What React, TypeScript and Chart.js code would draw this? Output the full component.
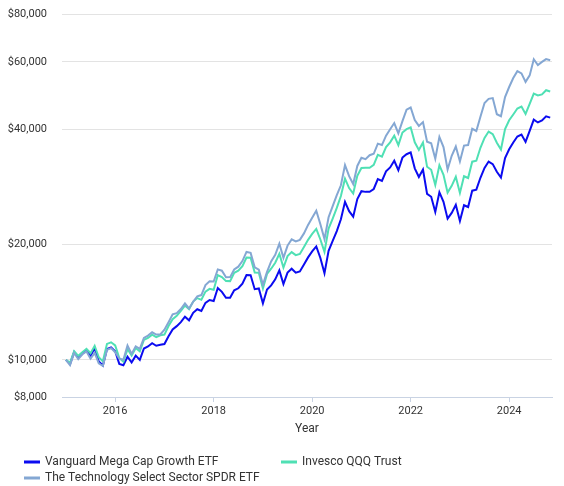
import React, { useEffect, useRef } from "react";
import { Chart, registerables } from "chart.js";

Chart.register(...registerables);

const seriesNames = [
  "Vanguard Mega Cap Growth ETF",
  "Invesco QQQ Trust",
  "The Technology Select Sector SPDR ETF",
];

// Monthly categories (first of month), Jan 2015 .. Nov 2024
const months: string[] = [];
for (let y = 2015; y <= 2024; y++) {
  for (let m = 1; m <= 12; m++) {
    if (months.length < 119) months.push(`${y}-${String(m).padStart(2, "0")}`);
  }
}

const mgk = [
  10000, 9760, 10478, 10143, 10370, 10579, 10254, 10720, 9906, 9665,
  10680, 10781, 10533, 9760, 9680, 10191, 9850, 10259, 9998, 10710,
  10838, 11059, 10888, 10958, 11002, 11523, 12010, 12249, 12551, 12963,
  12685, 13273, 13558, 13418, 14091, 14331, 14247, 15403, 15055, 14532,
  14531, 15191, 15379, 15809, 16650, 16633, 15294, 15369, 14052, 15260,
  15655, 16233, 17128, 15772, 16895, 17303, 16892, 17019, 17751, 18520,
  19198, 19778, 18458, 16841, 19271, 20463, 21689, 23297, 25862, 24446,
  23654, 26302, 27574, 27458, 27465, 27936, 29659, 29343, 31079, 31808,
  33108, 31267, 33741, 34433, 34812, 31626, 30023, 31400, 27136, 26658,
  24321, 27400, 25869, 23370, 24202, 25397, 23049, 25336, 25066, 27657,
  27820, 29883, 31702, 32947, 32442, 30985, 29934, 33660, 35473, 36951,
  38298, 38756, 37084, 39618, 42387, 41678, 42187, 43255, 42907,
];

const qqq = [
  10000, 9827, 10531, 10245, 10475, 10686, 10410, 10883, 10160, 9913,
  11010, 11114, 10915, 10112, 9893, 10671, 10267, 10742, 10524, 11274,
  11408, 11641, 11461, 11596, 11642, 12258, 12777, 13031, 13423, 13864,
  13567, 14196, 14500, 14351, 15071, 15327, 15237, 16652, 16454, 16057,
  16056, 16879, 17088, 17565, 18500, 18481, 16899, 16889, 15374, 16769,
  17298, 17937, 18926, 17428, 18668, 19119, 18769, 18910, 19723, 20578,
  21331, 21976, 20623, 19137, 22024, 23386, 24930, 26778, 29726, 28099,
  27188, 30232, 31694, 31743, 31751, 32296, 34288, 33923, 35930, 36986,
  38498, 36357, 39234, 40038, 40479, 36990, 35321, 36941, 31925, 31362,
  28613, 32235, 30434, 27333, 28473, 30056, 27277, 30162, 29840, 32925,
  33119, 35788, 37966, 39458, 38853, 36887, 35425, 40072, 42230, 43729,
  45323, 45865, 43886, 46609, 49575, 49033, 49341, 50591, 50184,
];

const xlk = [
  10000, 9684, 10420, 10042, 10343, 10524, 10072, 10423, 9800, 9639,
  10625, 10734, 10475, 10069, 10005, 10899, 10369, 10846, 10685, 11410,
  11569, 11803, 11642, 11653, 11986, 12543, 13151, 13238, 13575, 14036,
  13626, 14188, 14650, 14765, 15679, 16045, 16023, 17229, 17095, 16433,
  16449, 17220, 17514, 18111, 19138, 19030, 17455, 17193, 15714, 16972,
  18080, 18809, 20098, 18462, 19882, 20641, 20380, 20578, 21391, 22512,
  23508, 24530, 22601, 20669, 23571, 25215, 26940, 28566, 32260, 30170,
  28776, 32091, 33703, 33423, 34234, 34525, 36691, 36386, 38506, 40029,
  41529, 39032, 41998, 44997, 45589, 42272, 40814, 41771, 37127, 36792,
  33504, 38206, 35943, 31403, 34103, 36068, 32973, 36267, 36379, 40133,
  39611, 43135, 46852, 48041, 48245, 43800, 43278, 48564, 51582, 54444,
  56722, 55967, 53194, 55314, 60940, 58864, 59970, 60996, 60564,
];

const yTicks = [8000, 10000, 20000, 40000, 60000, 80000];
const xTicks = [2016, 2018, 2020, 2022, 2024];
const colors = ["#0b0bf0", "#4fe0b4", "#84a7d3"];

function toYear(s: string): number {
  const [y, m] = s.split("-").map(Number);
  return y + (m - 1) / 12;
}

function pts(values: number[]) {
  return values.map((v, i) => ({ x: toYear(months[i]), y: v }));
}

const gridLegend = {
  id: "gridLegend",
  afterDraw(chart: any) {
    const ctx = chart.ctx;
    const spots = [
      [24, 462],
      [281, 462],
      [24, 478],
    ];
    ctx.save();
    chart.data.datasets.forEach((ds: any, i: number) => {
      const [x, y] = spots[i];
      ctx.fillStyle = ds.borderColor;
      ctx.fillRect(x, y - 1.5, 16, 3);
      ctx.fillStyle = "#333333";
      ctx.font = "12px Roboto";
      ctx.textAlign = "left";
      ctx.textBaseline = "middle";
      ctx.fillText(ds.label, x + 21, y);
    });
    ctx.restore();
  },
};

export default function App() {
  const ref = useRef<HTMLCanvasElement | null>(null);

  useEffect(() => {
    document.body.style.margin = "0";
    if (!ref.current) return;
    Chart.defaults.font.family = "Roboto";
    const chart = new Chart(ref.current, {
      type: "line",
      data: {
        datasets: [
          { label: seriesNames[0], data: pts(mgk), borderColor: colors[0], backgroundColor: colors[0], borderWidth: 2, pointRadius: 0, order: 3 },
          { label: seriesNames[1], data: pts(qqq), borderColor: colors[1], backgroundColor: colors[1], borderWidth: 2, pointRadius: 0, order: 2 },
          { label: seriesNames[2], data: pts(xlk), borderColor: colors[2], backgroundColor: colors[2], borderWidth: 2, pointRadius: 0, order: 1 },
        ],
      },
      options: {
        animation: false,
        responsive: false,
        maintainAspectRatio: false,
        layout: { padding: { top: 14, right: 12, bottom: 47, left: 0 } },
        plugins: {
          legend: { display: false },
          tooltip: { enabled: false },
        },
        scales: {
          x: {
            type: "linear",
            min: 2014.92,
            max: 2024.87,
            afterBuildTicks: (s: any) => {
              s.ticks = xTicks.map((v) => ({ value: v }));
            },
            afterFit: (s: any) => {
              s.height = 42;
            },
            ticks: {
              callback: (v: any) => String(v),
              color: "#333333",
              font: { size: 11 },
              padding: 3,
              maxRotation: 0,
              autoSkip: false,
            },
            grid: { drawOnChartArea: false, drawTicks: true, tickLength: 5, color: "#c9d3e3" },
            border: { display: true, color: "#c9d3e3" },
            title: { display: true, text: "Year", color: "#333333", font: { size: 12 }, padding: { top: 4, bottom: 3 } },
          },
          y: {
            type: "logarithmic",
            min: 8000,
            max: 80000,
            afterBuildTicks: (s: any) => {
              s.ticks = yTicks.map((v) => ({ value: v }));
            },
            afterFit: (s: any) => {
              s.width = 62;
              s.paddingTop = 0;
              s.paddingBottom = 0;
            },
            ticks: {
              callback: (v: any) => "$" + Number(v).toLocaleString("en-US"),
              color: "#333333",
              font: { size: 11 },
              padding: 15,
              autoSkip: false,
            },
            grid: { color: "#e3e3e3", drawTicks: false },
            border: { display: false },
          },
        },
      },
      plugins: [gridLegend],
    });
    return () => chart.destroy();
  }, []);

  return (
    <div style={{ width: 564, height: 486, position: "relative" }}>
      <canvas ref={ref} width={564} height={486} style={{ width: 564, height: 486, display: "block" }} />
    </div>
  );
}
